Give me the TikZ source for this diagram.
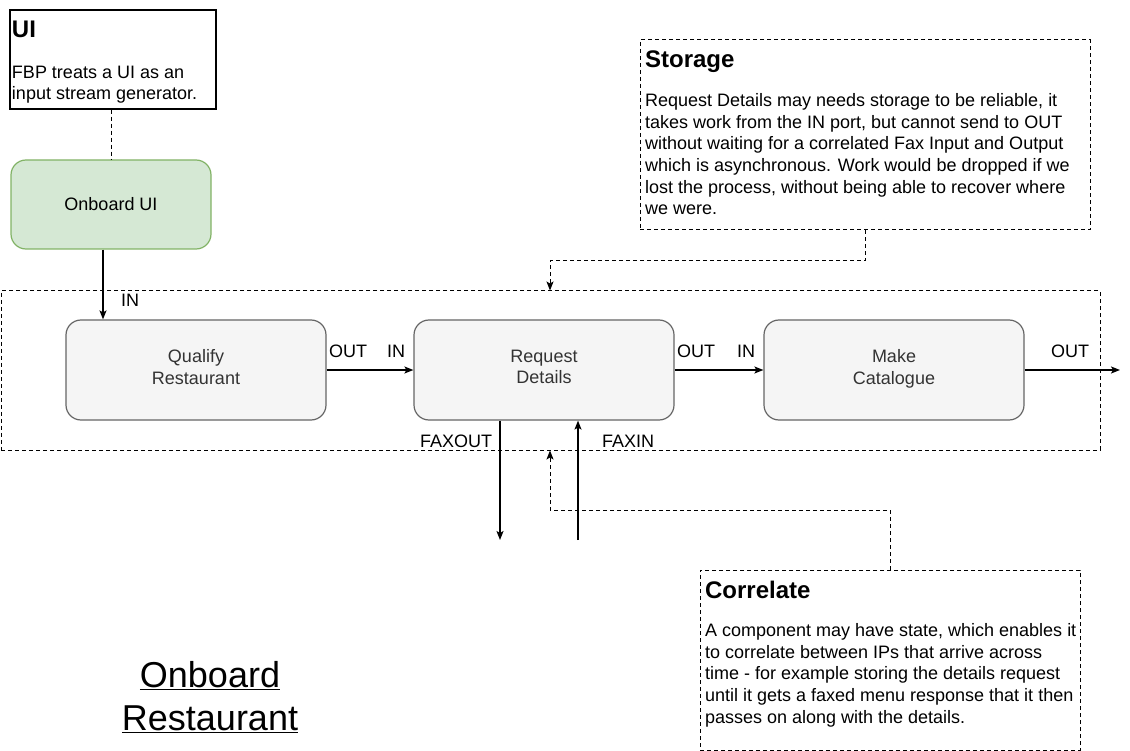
\documentclass[tikz,border=0pt]{standalone}
\usepackage{fontspec}
\setmainfont{Liberation Sans}
\usetikzlibrary{arrows.meta,positioning}

\definecolor{uifill}{HTML}{D5E8D4}
\definecolor{uiline}{HTML}{82B366}
\definecolor{procfill}{HTML}{F5F5F5}
\definecolor{procline}{HTML}{666666}
\definecolor{proctext}{HTML}{333333}

\newcommand{\bodyfont}{\fontsize{18}{21.6}\selectfont}
\newcommand{\headfont}{\fontsize{24}{28.8}\selectfont\bfseries}
\newcommand{\bigfont}{\fontsize{36}{43.2}\selectfont}

\tikzset{
    process/.style={draw=procline, fill=procfill, rounded corners=15pt,
        minimum width=260pt, minimum height=100pt, align=center,
        font=\bodyfont, text=proctext},
    uibox/.style={process, draw=uiline, fill=uifill, minimum width=200pt,
        minimum height=89pt, text=black},
    notebox/.style={draw, inner sep=0pt},
    dashpat/.style={line width=1pt, dash pattern=on 4pt off 3pt},
    heading/.style={anchor=base west, inner sep=0pt, font=\headfont},
    notetext/.style={anchor=north west, inner sep=0pt, align=left, font=\bodyfont},
    port/.style={inner sep=0pt, font=\bodyfont},
    flow/.style={-{Stealth[length=9pt,width=7pt,inset=2pt]}},
    notelink/.style={dashpat, -{Stealth[length=9pt,width=7pt,inset=2pt]}},
}

\begin{document}
\begin{tikzpicture}[x=1pt, y=-1pt, line width=1.2pt]

    \useasboundingbox (0,0) rectangle (1130,751);

    % notes
    \node [notebox, minimum width=206pt, minimum height=99pt] (ui) at (113,59.5) {};
    \node [heading] (uihead) at ([shift={(2,28.5)}]ui.north west) {UI};
    \node [notetext] (uitext) at ([shift={(2,52.9)}]ui.north west)
        {\strut FBP treats a UI as an\\input stream generator.};

    \node [notebox, dashpat, minimum width=450pt, minimum height=190pt] (storage) at (865,135) {};
    \node [heading] (storagehead) at ([shift={(5,28.5)}]storage.north west) {Storage};
    \node [notetext] (storagetext) at ([shift={(5,51.4)}]storage.north west)
        {\strut Request Details may needs storage to be reliable, it\\
         takes work from the IN port, but cannot send to OUT\\
         without waiting for a correlated Fax Input and Output\\
         which is asynchronous. Work would be dropped if we\\
         lost the process, without being able to recover where\\
         we were.};

    \node [notebox, dashpat, minimum width=380pt, minimum height=180pt] (correlate) at (890,660) {};
    \node [heading] (correlatehead) at ([shift={(5,28.5)}]correlate.north west) {Correlate};
    \node [notetext] (correlatetext) at ([shift={(5,51.4)}]correlate.north west)
        {\strut A component may have state, which enables it\\
         to correlate between IPs that arrive across\\
         time - for example storing the details request\\
         until it gets a faxed menu response that it then\\
         passes on along with the details.};

    % network
    \node [uibox] (onboard) at (111,204.5) {Onboard UI};
    \node [notebox, dashpat, minimum width=1099pt, minimum height=159pt] (group) at (550.5,370.5) {};
    \node [process] (qualify) at (196,370) {Qualify\\Restaurant\\[-15pt]};
    \node [process, right=86.8pt of qualify] (request) {Request\\Details\\[-15pt]};
    \node [process, right=88.8pt of request] (catalogue) {Make\\Catalogue\\[-15pt]};

    \node [port] (qin) at (130,300) {IN};
    \node [port] (qout) at (348,351) {OUT};
    \node [port] (rin) at (396,351) {IN};
    \node [port] (rout) at (696,351) {OUT};
    \node [port] (cin) at (746,351) {IN};
    \node [port] (cout) at (1070,351) {OUT};
    \node [port] (rfaxout) at (456,441) {FAXOUT};
    \node [port] (rfaxin) at (628,441) {FAXIN};

    \coordinate (exit) at (1120,370);
    \coordinate (faxout) at (500,540);
    \coordinate (faxin) at (578,540);
    \coordinate (sbend) at (550,261);
    \coordinate (cbend) at (550,510);

    \draw [dashpat] (ui.south -| onboard.north) -- (onboard.north);
    \draw [flow] ([xshift=-8pt]onboard.south) -- ([xshift=-8pt]onboard.south |- qualify.north);
    \draw [flow] (qualify.east) -- (request.west);
    \draw [flow] (request.east) -- (catalogue.west);
    \draw [flow] (catalogue.east) -- (exit);
    \draw [flow] (request.south -| faxout) -- (faxout);
    \draw [flow] (faxin) -- (request.south -| faxin);

    \draw [notelink] (storage.south) |- (sbend) -- (sbend |- group.north);
    \draw [notelink] (correlate.north) |- (cbend) -- (cbend |- group.south);

    \node [align=center, font=\bigfont] (title) at (210,697)
        {\underline{Onboard}\\\underline{Restaurant}};

\end{tikzpicture}
\end{document}
